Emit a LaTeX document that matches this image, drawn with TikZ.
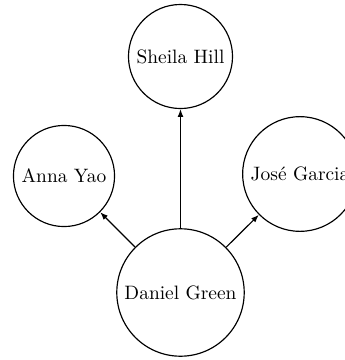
\documentclass[tikz,border=0pt]{standalone}
\usetikzlibrary{arrows.meta}
\begin{document}
\begin{tikzpicture}[x=0.5155pt,y=-0.5155pt,
  person/.style={draw,circle,semithick},
  link/.style={semithick,-{Latex[length=4pt,width=3pt]}}]
\useasboundingbox (0,0) rectangle (345,360);
\node[person] (sheila) at (180.5,56.5) {Sheila Hill};
\node[person] (anna) at (64,176) {Anna Yao};
\node[person] (jose) at (300,174) {José Garcia};
\node[person] (daniel) at (180.5,292.5) {Daniel Green};
\draw[link] (daniel) -- (sheila);
\draw[link] (daniel) -- (anna);
\draw[link] (daniel) -- (jose);
\end{tikzpicture}
\end{document}
